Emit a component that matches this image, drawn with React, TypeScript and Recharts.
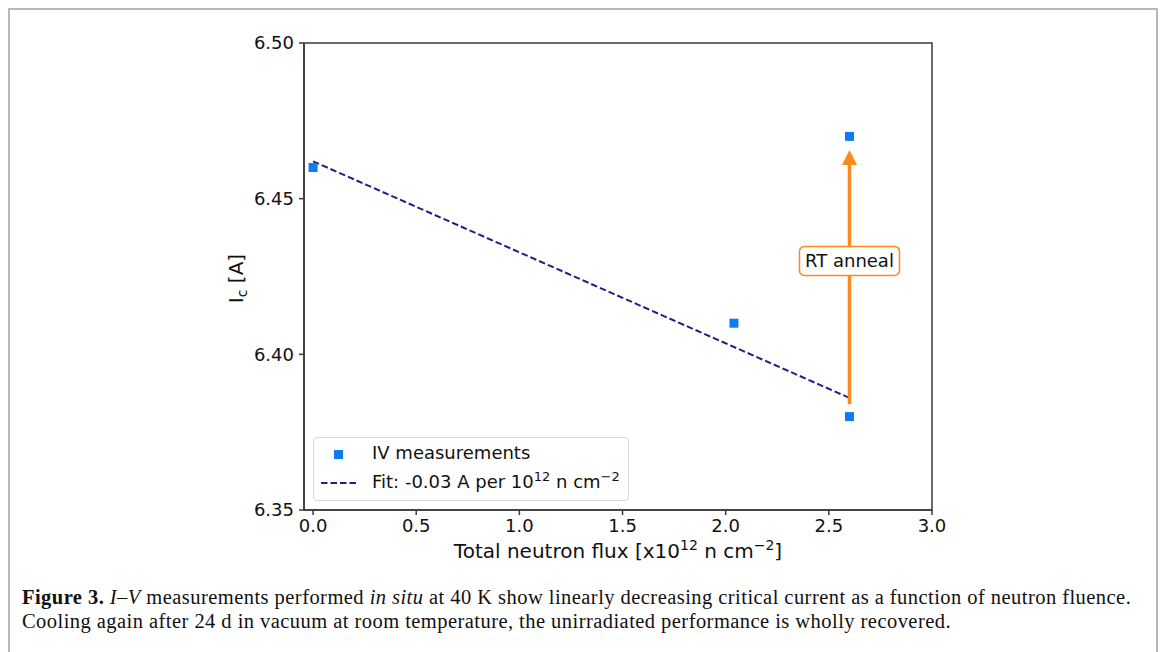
import React from "react";
import {
  ComposedChart,
  XAxis,
  YAxis,
  Scatter,
  Line,
  ReferenceArea,
  ReferenceLine,
  ReferenceDot,
  Legend,
  Label,
} from "recharts";

// measured critical current vs total neutron flux
const fluxValues = [0.0, 2.04, 2.6, 2.6];
const currentValues = [6.46, 6.41, 6.38, 6.47];

// linear fit
const fitFlux = [0.0, 2.6];
const fitCurrent = [6.462, 6.386];

// RT anneal arrow (start, tip) and label position
const annealFlux = 2.6;
const annealFrom = 6.384;
const annealTo = 6.4656;
const annealLabelAt = 6.43;

const xTicks = [0.0, 0.5, 1.0, 1.5, 2.0, 2.5, 3.0];
const yTicks = [6.35, 6.4, 6.45, 6.5];
const xDomain = [-0.044, 3.0];
const yDomain = [6.35, 6.5];

const measurements = fluxValues.map((x, i) => ({ x, y: currentValues[i] }));
const fit = fitFlux.map((x, i) => ({ x, y: fitCurrent[i] }));

const FONT = "'DejaVu Sans', sans-serif";
const BLUE = "#0b7cf2";
const NAVY = "#1f1f85";
const ORANGE = "#fb8a1e";
const SPINE = "#3a3a3a";

function SquareMarker(props: any) {
  const { cx, cy } = props;
  if (cx == null || cy == null) return null;
  return <rect x={cx - 4.5} y={cy - 4.5} width={9} height={9} fill={BLUE} />;
}

function ArrowHead(props: any) {
  const { cx, cy } = props;
  return (
    <polygon
      points={`${cx},${cy} ${cx - 7.5},${cy + 15} ${cx + 7.5},${cy + 15}`}
      fill={ORANGE}
    />
  );
}

function AnnealBox(props: any) {
  const { cx, cy } = props;
  return (
    <g>
      <rect
        x={cx - 50}
        y={cy - 14.5}
        width={100}
        height={29}
        rx={5}
        fill="#fff"
        stroke={ORANGE}
        strokeWidth={1.5}
      />
      <text
        x={cx}
        y={cy + 6.5}
        textAnchor="middle"
        fontFamily={FONT}
        fontSize={18}
        fill="#111"
      >
        RT anneal
      </text>
    </g>
  );
}

function XLabel(props: any) {
  const { viewBox } = props;
  const cx = viewBox.x + viewBox.width / 2;
  return (
    <text
      x={cx}
      y={558}
      textAnchor="middle"
      fontFamily={FONT}
      fontSize={20}
      fill="#111"
    >
      Total neutron flux [x10
      <tspan fontSize={14} dy={-8}>12</tspan>
      <tspan dy={8}> n cm</tspan>
      <tspan fontSize={14} dy={-8}>−2</tspan>
      <tspan dy={8}>]</tspan>
    </text>
  );
}

function YLabel(props: any) {
  const { viewBox } = props;
  const cy = viewBox.y + viewBox.height / 2 + 2;
  const x = 243;
  return (
    <text
      x={x}
      y={cy}
      transform={`rotate(-90 ${x} ${cy})`}
      textAnchor="middle"
      fontFamily={FONT}
      fontSize={20}
      fill="#111"
    >
      I
      <tspan fontSize={14} dy={4}>c</tspan>
      <tspan dy={-4}> [A]</tspan>
    </text>
  );
}

function LegendBox() {
  return (
    <div
      style={{
        width: 314,
        height: 62,
        border: "1px solid #d8d8d8",
        borderRadius: 4,
        background: "rgba(255,255,255,0.85)",
        fontFamily: FONT,
        fontSize: 18,
        color: "#111",
        position: "relative",
      }}
    >
      <div style={{ position: "absolute", left: 20, top: 12, width: 9, height: 9, background: BLUE }} />
      <div style={{ position: "absolute", left: 58, top: 4, whiteSpace: "nowrap" }}>IV measurements</div>
      <svg style={{ position: "absolute", left: 6, top: 43 }} width={40} height={4}>
        <line x1={1} y1={2} x2={38} y2={2} stroke={NAVY} strokeWidth={2} strokeDasharray="6.5 3" />
      </svg>
      <div style={{ position: "absolute", left: 58, top: 33, whiteSpace: "nowrap" }}>
        Fit: -0.03 A per 10
        <sup style={{ fontSize: 13, verticalAlign: "7px", lineHeight: 0 }}>12</sup> n cm
        <sup style={{ fontSize: 13, verticalAlign: "7px", lineHeight: 0 }}>−2</sup>
      </div>
    </div>
  );
}

export default function App() {
  return (
    <div style={{ position: "relative", width: 1152, height: 644 }}>
      <div
        style={{
          position: "absolute",
          left: 0,
          top: 0,
          width: 1150,
          height: 650,
          borderTop: "2px solid #b8b8b8",
          borderLeft: "2px solid #b8b8b8",
          borderRight: "2px solid #b8b8b8",
          boxSizing: "border-box",
        }}
      />
      <div style={{ position: "absolute", left: -8, top: -8 }}>
        <ComposedChart
          width={1168}
          height={580}
          margin={{ top: 43, right: 236, left: 244, bottom: 10 }}
        >
          <XAxis
            dataKey="x"
            type="number"
            domain={xDomain}
            ticks={xTicks}
            allowDataOverflow
            tickFormatter={(v: number) => v.toFixed(1)}
            height={60}
            tickSize={5}
            tickMargin={4}
            stroke={SPINE}
            strokeWidth={1.5}
            tick={{ fontFamily: FONT, fontSize: 18, fill: "#111" }}
          >
            <Label content={<XLabel />} />
          </XAxis>
          <YAxis
            dataKey="y"
            type="number"
            domain={yDomain}
            ticks={yTicks}
            allowDataOverflow
            tickFormatter={(v: number) => v.toFixed(2)}
            width={60}
            tickSize={5}
            tickMargin={5}
            stroke={SPINE}
            strokeWidth={1.5}
            tick={{ fontFamily: FONT, fontSize: 18, fill: "#111" }}
          >
            <Label content={<YLabel />} />
          </YAxis>
          <ReferenceArea
            x1={xDomain[0]}
            x2={xDomain[1]}
            y1={yDomain[0]}
            y2={yDomain[1]}
            fill="none"
            stroke={SPINE}
            strokeWidth={1.5}
          />
          <Line
            data={fit}
            dataKey="y"
            type="linear"
            stroke={NAVY}
            strokeWidth={2}
            strokeDasharray="6.5 3"
            dot={false}
            activeDot={false}
            isAnimationActive={false}
            name="fit"
          />
          <ReferenceLine
            segment={[
              { x: annealFlux, y: annealFrom },
              { x: annealFlux, y: annealTo - 0.004 },
            ]}
            stroke={ORANGE}
            strokeWidth={3.5}
          />
          <ReferenceDot x={annealFlux} y={annealTo} shape={<ArrowHead />} />
          <ReferenceDot x={annealFlux} y={annealLabelAt} shape={<AnnealBox />} />
          <Scatter
            data={measurements}
            dataKey="y"
            shape={<SquareMarker />}
            isAnimationActive={false}
            name="IV measurements"
          />
          <Legend
            layout="horizontal"
            verticalAlign="middle"
            align="center"
            content={<LegendBox />}
            wrapperStyle={{ left: 313, top: 437, width: 316, height: 64 }}
          />
        </ComposedChart>
      </div>
      <div
        style={{
          position: "absolute",
          left: 14,
          top: 577,
          width: 1140,
          fontFamily: "'Liberation Serif', serif",
          fontSize: 20.5,
          letterSpacing: 0.45,
          lineHeight: "24px",
          color: "#111",
          whiteSpace: "nowrap",
        }}
      >
        <b>Figure 3.</b> <i>I</i>–<i>V</i> measurements performed <i>in situ</i> at 40 K show linearly decreasing critical current as a function of neutron fluence.
        <br />
        Cooling again after 24 d in vacuum at room temperature, the unirradiated performance is wholly recovered.
      </div>
    </div>
  );
}
